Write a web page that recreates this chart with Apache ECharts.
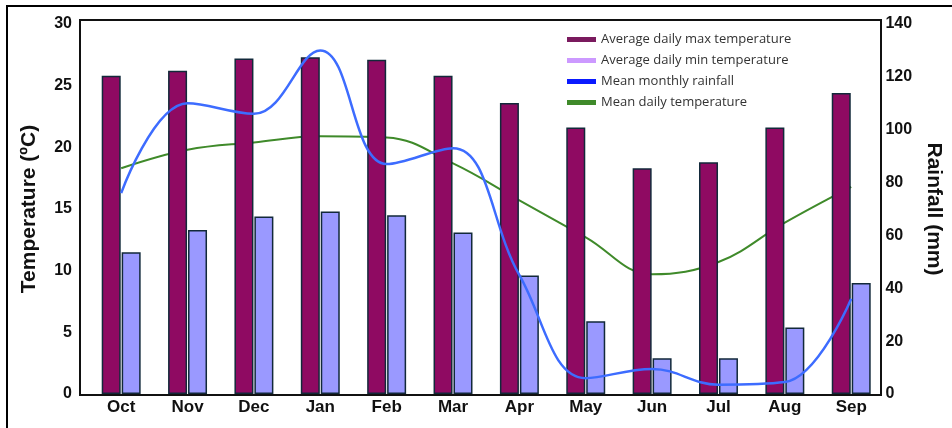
<!DOCTYPE html>
<html>
<head>
<meta charset="utf-8">
<script src="https://cdn.jsdelivr.net/npm/echarts@6/dist/echarts.min.js"></script>
<style>
html,body{margin:0;padding:0;background:#fff;}
#chart{width:952px;height:428px;}
</style>
</head>
<body>
<div id="chart"></div>
<script>
const months = ['Oct','Nov','Dec','Jan','Feb','Mar','Apr','May','Jun','Jul','Aug','Sep'];
const maxTemp = [25.8, 26.2, 27.2, 27.3, 27.1, 25.8, 23.6, 21.6, 18.3, 18.8, 21.6, 24.4];
const minTemp = [11.5, 13.3, 14.4, 14.8, 14.5, 13.1, 9.6, 5.9, 2.9, 2.9, 5.4, 9.0];
const rainfall = [76, 110, 106, 130, 87, 93, 45, 6, 9.5, 3.5, 4.5, 36];
const meanTemp = [18.3, 19.8, 20.4, 20.9, 20.8, 18.7, 15.7, 12.7, 9.7, 10.7, 13.9, 16.8];
const tempTicks = {min: 0, max: 30, interval: 5};
const rainTicks = {min: 0, max: 140, interval: 20};

const chart = echarts.init(document.getElementById('chart'));
const fontBold = {fontFamily: 'Liberation Sans, Arial, sans-serif', fontWeight: 'bold', color: '#111'};
chart.setOption({
  animation: false,
  backgroundColor: '#fff',
  grid: {left: 88, right: 66, top: 24, bottom: 34},
  graphic: [
    {type: 'rect', shape: {x: 7, y: 6, width: 980, height: 460}, style: {fill: 'none', stroke: '#000', lineWidth: 2}, z: 100},
    {type: 'rect', shape: {x: 80, y: 20, width: 801, height: 375}, style: {fill: 'none', stroke: '#111', lineWidth: 2}, z: 100}
  ],
  legend: {
    orient: 'vertical', left: 562, top: 27,
    itemWidth: 29, itemHeight: 5, itemGap: 6,
    textStyle: {fontFamily: 'Open Sans, Lato, sans-serif', fontSize: 13, color: '#333', lineHeight: 15},
    data: [
      {name: 'Average daily max temperature', icon: 'rect', itemStyle: {color: '#7a1a5e', borderWidth: 0}},
      {name: 'Average daily min temperature', icon: 'rect', itemStyle: {color: '#cc99ff', borderWidth: 0}},
      {name: 'Mean monthly rainfall', icon: 'rect', itemStyle: {color: '#0a1aff', borderWidth: 0}},
      {name: 'Mean daily temperature', icon: 'rect', itemStyle: {color: '#3f8a2a', borderWidth: 0}}
    ]
  },
  xAxis: {
    type: 'category', data: months,
    axisLine: {show: false}, axisTick: {show: false},
    axisLabel: Object.assign({fontSize: 17, margin: 5}, fontBold)
  },
  yAxis: [
    Object.assign({
      type: 'value', position: 'left', offset: 8,
      name: 'Temperature (ºC)', nameLocation: 'middle', nameGap: 40, nameRotate: 90,
      nameTextStyle: Object.assign({fontSize: 21}, fontBold),
      axisLine: {show: false}, axisTick: {show: false}, splitLine: {show: false},
      axisLabel: Object.assign({fontSize: 16, margin: 8}, fontBold)
    }, tempTicks),
    Object.assign({
      type: 'value', position: 'right', offset: -5,
      name: 'Rainfall (mm)', nameLocation: 'middle', nameGap: 43, nameRotate: -90,
      nameTextStyle: Object.assign({fontSize: 21}, fontBold),
      axisLine: {show: false}, axisTick: {show: false}, splitLine: {show: false},
      axisLabel: Object.assign({fontSize: 16, margin: 6}, fontBold)
    }, rainTicks)
  ],
  series: [
    {name: 'Mean daily temperature', type: 'line', yAxisIndex: 0, data: meanTemp, smooth: 0.4,
     showSymbol: false, z: 1, lineStyle: {color: '#3f8a2a', width: 2}, itemStyle: {color: '#3f8a2a'}},
    {name: 'Average daily max temperature', type: 'bar', yAxisIndex: 0, data: maxTemp, barWidth: 19, barGap: '5%', z: 2,
     itemStyle: {color: '#8f0a62', borderColor: '#12293a', borderWidth: 1.5}},
    {name: 'Average daily min temperature', type: 'bar', yAxisIndex: 0, data: minTemp, barWidth: 19, z: 2,
     itemStyle: {color: '#9a99ff', borderColor: '#12293a', borderWidth: 1.5}},
    {name: 'Mean monthly rainfall', type: 'line', yAxisIndex: 1, data: rainfall, smooth: 0.4,
     showSymbol: false, z: 3, lineStyle: {color: '#3d6cff', width: 2.5}, itemStyle: {color: '#3d6cff'}}
  ]
});
</script>
</body>
</html>
